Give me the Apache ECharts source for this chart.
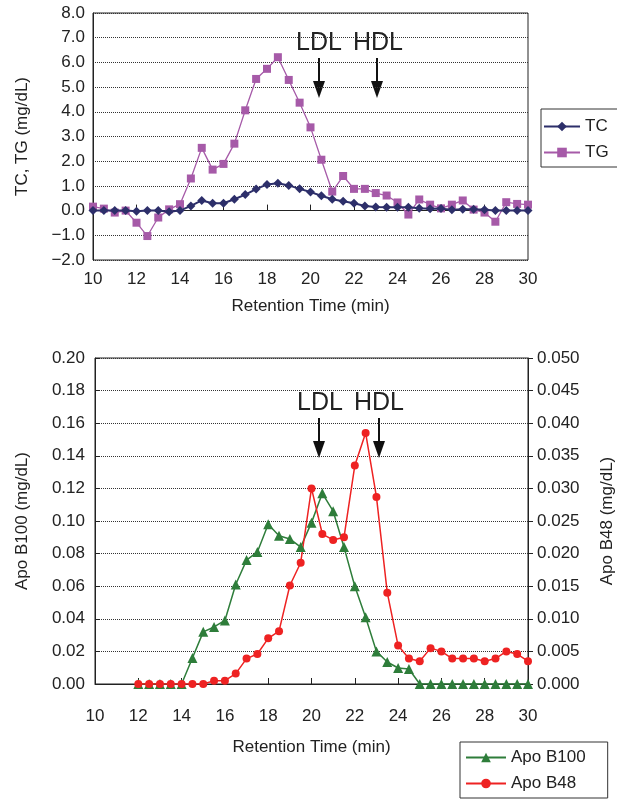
<!DOCTYPE html>
<html>
<head>
<meta charset="utf-8">
<script src="https://cdn.jsdelivr.net/npm/echarts@6/dist/echarts.min.js"></script>
<style>
  html, body { margin: 0; padding: 0; background: #fff; }
  #main { width: 617px; height: 801px; }
</style>
</head>
<body>
<div id="main"></div>
<script>
// top panel: TC / TG, every 0.5 min
var timesTop = [10, 10.5, 11, 11.5, 12, 12.5, 13, 13.5, 14, 14.5, 15, 15.5, 16, 16.5, 17, 17.5, 18, 18.5, 19, 19.5,
  20, 20.5, 21, 21.5, 22, 22.5, 23, 23.5, 24, 24.5, 25, 25.5, 26, 26.5, 27, 27.5, 28, 28.5, 29, 29.5, 30];
var tcValues = [0, 0, 0, 0, -0.03, 0, 0, -0.05, 0, 0.19, 0.41, 0.30, 0.30, 0.46, 0.65, 0.87, 1.06, 1.11, 1.02, 0.88,
  0.75, 0.60, 0.46, 0.38, 0.30, 0.19, 0.15, 0.14, 0.14, 0.14, 0.10, 0.07, 0.08, 0.03, 0.05, 0.05, 0.03, 0, 0, 0, 0];
var tgValues = [0.16, 0.08, -0.08, 0, -0.49, -1.03, -0.28, 0.05, 0.26, 1.30, 2.54, 1.66, 1.89, 2.71, 4.06, 5.33, 5.74, 6.21, 5.29, 4.37,
  3.37, 2.06, 0.77, 1.40, 0.88, 0.88, 0.71, 0.61, 0.33, -0.16, 0.45, 0.24, 0.09, 0.24, 0.41, 0.04, -0.08, -0.45, 0.34, 0.27, 0.24];

// bottom panel: Apo B100 / Apo B48
var timesBottom = [12, 12.5, 13, 13.5, 14, 14.5, 15, 15.5, 16, 16.5, 17, 17.5, 18, 18.5, 19, 19.5,
  20, 20.5, 21, 21.5, 22, 22.5, 23, 23.5, 24, 24.5, 25, 25.5, 26, 26.5, 27, 27.5, 28, 28.5, 29, 29.5, 30];
var b100Values = [0, 0, 0, 0, 0, 0.016, 0.032, 0.035, 0.039, 0.061, 0.076, 0.081, 0.098, 0.091, 0.089, 0.084,
  0.099, 0.117, 0.106, 0.084, 0.060, 0.041, 0.020, 0.0135, 0.0098, 0.0092, 0, 0, 0, 0, 0, 0, 0, 0, 0, 0, 0];
var b48Values = [0, 0, 0, 0, 0, 0, 0, 0.0005, 0.0005, 0.0016, 0.0039, 0.0046, 0.0070, 0.0081, 0.0151, 0.0186,
  0.0300, 0.0230, 0.0221, 0.0225, 0.0335, 0.0385, 0.0287, 0.0140, 0.0059, 0.0039, 0.0035, 0.0055, 0.0050, 0.0039,
  0.0039, 0.0039, 0.0035, 0.0039, 0.0050, 0.0046, 0.0035];

function pairs(xs, ys) {
  return xs.map(function (x, i) { return [x, ys[i]]; });
}

var FONT = 'Liberation Sans';
var txt = { fontFamily: FONT, fontSize: 17, color: '#222' };

var myChart = echarts.init(document.getElementById('main'));

// LDL / HDL arrows
function arrow(x, y1, y2) {
  return [
    { type: 'line', shape: { x1: x, y1: y1, x2: x, y2: y2 - 12 }, style: { stroke: '#111', lineWidth: 2 } },
    { type: 'polygon', shape: { points: [[x - 6, y2 - 17], [x + 6, y2 - 17], [x, y2]] }, style: { fill: '#111' } }
  ];
}

function label(x, y, s) {
  return { type: 'text', x: x, y: y, style: { text: s, fontFamily: FONT, fontSize: 25, fill: '#222' } };
}

var xAxisBase = {
  type: 'value', min: 10, max: 30, interval: 2,
  axisLine: { lineStyle: { color: '#222' } },
  axisTick: { inside: true, length: 6, lineStyle: { color: '#222' } },
  splitLine: { show: false },
  name: 'Retention Time (min)', nameLocation: 'middle',
  nameTextStyle: txt
};

myChart.setOption({
  animation: false,
  grid: [
    { left: 93, top: 13, width: 435, height: 247, show: true, borderColor: '#222', borderWidth: 1, outerBoundsMode: 'none' },
    { left: 95, top: 358, width: 433, height: 326, show: true, borderColor: '#222', borderWidth: 1, outerBoundsMode: 'none' }
  ],
  xAxis: [
    Object.assign({}, xAxisBase, {
      gridIndex: 0, nameGap: 38,
      axisLabel: Object.assign({ margin: 11 }, txt)
    }),
    Object.assign({}, xAxisBase, {
      gridIndex: 1, nameGap: 55,
      axisLabel: Object.assign({ margin: 24 }, txt)
    })
  ],
  yAxis: [
    {
      gridIndex: 0, type: 'value', min: -2, max: 8, interval: 1,
      name: 'TC, TG (mg/dL)', nameLocation: 'middle', nameGap: 62, nameTextStyle: txt,
      axisLine: { show: true, lineStyle: { color: '#222' } },
      axisTick: { show: false },
      axisLabel: Object.assign({
        margin: 8,
        formatter: function (v) { return (v < 0 ? '\u2212' : '') + Math.abs(v).toFixed(1); }
      }, txt),
      splitLine: { lineStyle: { type: 'dotted', color: '#333' } }
    },
    {
      gridIndex: 1, type: 'value', min: 0, max: 0.2, interval: 0.02,
      name: 'Apo B100 (mg/dL)', nameLocation: 'middle', nameGap: 64, nameTextStyle: txt,
      axisLine: { show: true, lineStyle: { color: '#222' } },
      axisTick: { inside: true, length: 5, lineStyle: { color: '#222' } },
      axisLabel: Object.assign({
        margin: 10,
        formatter: function (v) { return v.toFixed(2); }
      }, txt),
      splitLine: { lineStyle: { type: 'dotted', color: '#333' } }
    },
    {
      gridIndex: 1, type: 'value', position: 'right', min: 0, max: 0.05, interval: 0.005,
      name: 'Apo B48 (mg/dL)', nameLocation: 'middle', nameGap: 71, nameRotate: 90, nameTextStyle: txt,
      axisLine: { show: true, lineStyle: { color: '#222' } },
      axisTick: { inside: false, length: 5, lineStyle: { color: '#222' } },
      axisLabel: Object.assign({
        margin: 9,
        formatter: function (v) { return v.toFixed(3); }
      }, txt),
      splitLine: { show: false }
    }
  ],
  legend: [
    {
      orient: 'vertical', left: 541, top: 109,
      padding: [9, 40, 6, 2], itemGap: 9, itemWidth: 36, itemHeight: 12,
      borderColor: '#333', borderWidth: 1,
      textStyle: txt,
      data: ['TC', 'TG']
    },
    {
      orient: 'vertical', left: 460, top: 742,
      padding: [7, 22, 6, 5], itemGap: 9, itemWidth: 40, itemHeight: 12,
      borderColor: '#333', borderWidth: 1,
      textStyle: txt,
      data: ['Apo B100', 'Apo B48']
    }
  ],
  series: [
    {
      name: 'TC', type: 'line', xAxisIndex: 0, yAxisIndex: 0,
      data: pairs(timesTop, tcValues),
      symbol: 'diamond', symbolSize: 9,
      lineStyle: { color: '#2d2f6a', width: 2 },
      itemStyle: { color: '#2d2f6a' },
      z: 3
    },
    {
      name: 'TG', type: 'line', xAxisIndex: 0, yAxisIndex: 0,
      data: pairs(timesTop, tgValues),
      symbol: 'rect', symbolSize: 8,
      lineStyle: { color: '#a65aa8', width: 1.3 },
      itemStyle: { color: '#a65aa8' },
      z: 2
    },
    {
      name: 'Apo B100', type: 'line', xAxisIndex: 1, yAxisIndex: 1,
      data: pairs(timesBottom, b100Values),
      symbol: 'triangle', symbolSize: 10,
      lineStyle: { color: '#2e7d3a', width: 1.5 },
      itemStyle: { color: '#2e7d3a' }
    },
    {
      name: 'Apo B48', type: 'line', xAxisIndex: 1, yAxisIndex: 2,
      data: pairs(timesBottom, b48Values),
      symbol: 'circle', symbolSize: 8,
      lineStyle: { color: '#ee2222', width: 1.5 },
      itemStyle: { color: '#ee2222' }
    }
  ],
  graphic: [
    label(296, 31, 'LDL'), label(353, 31, 'HDL'),
    label(297, 391, 'LDL'), label(354, 391, 'HDL')
  ].concat(arrow(319, 58, 98), arrow(377, 58, 98), arrow(319, 418, 458), arrow(379, 418, 458))
});
</script>
</body>
</html>
